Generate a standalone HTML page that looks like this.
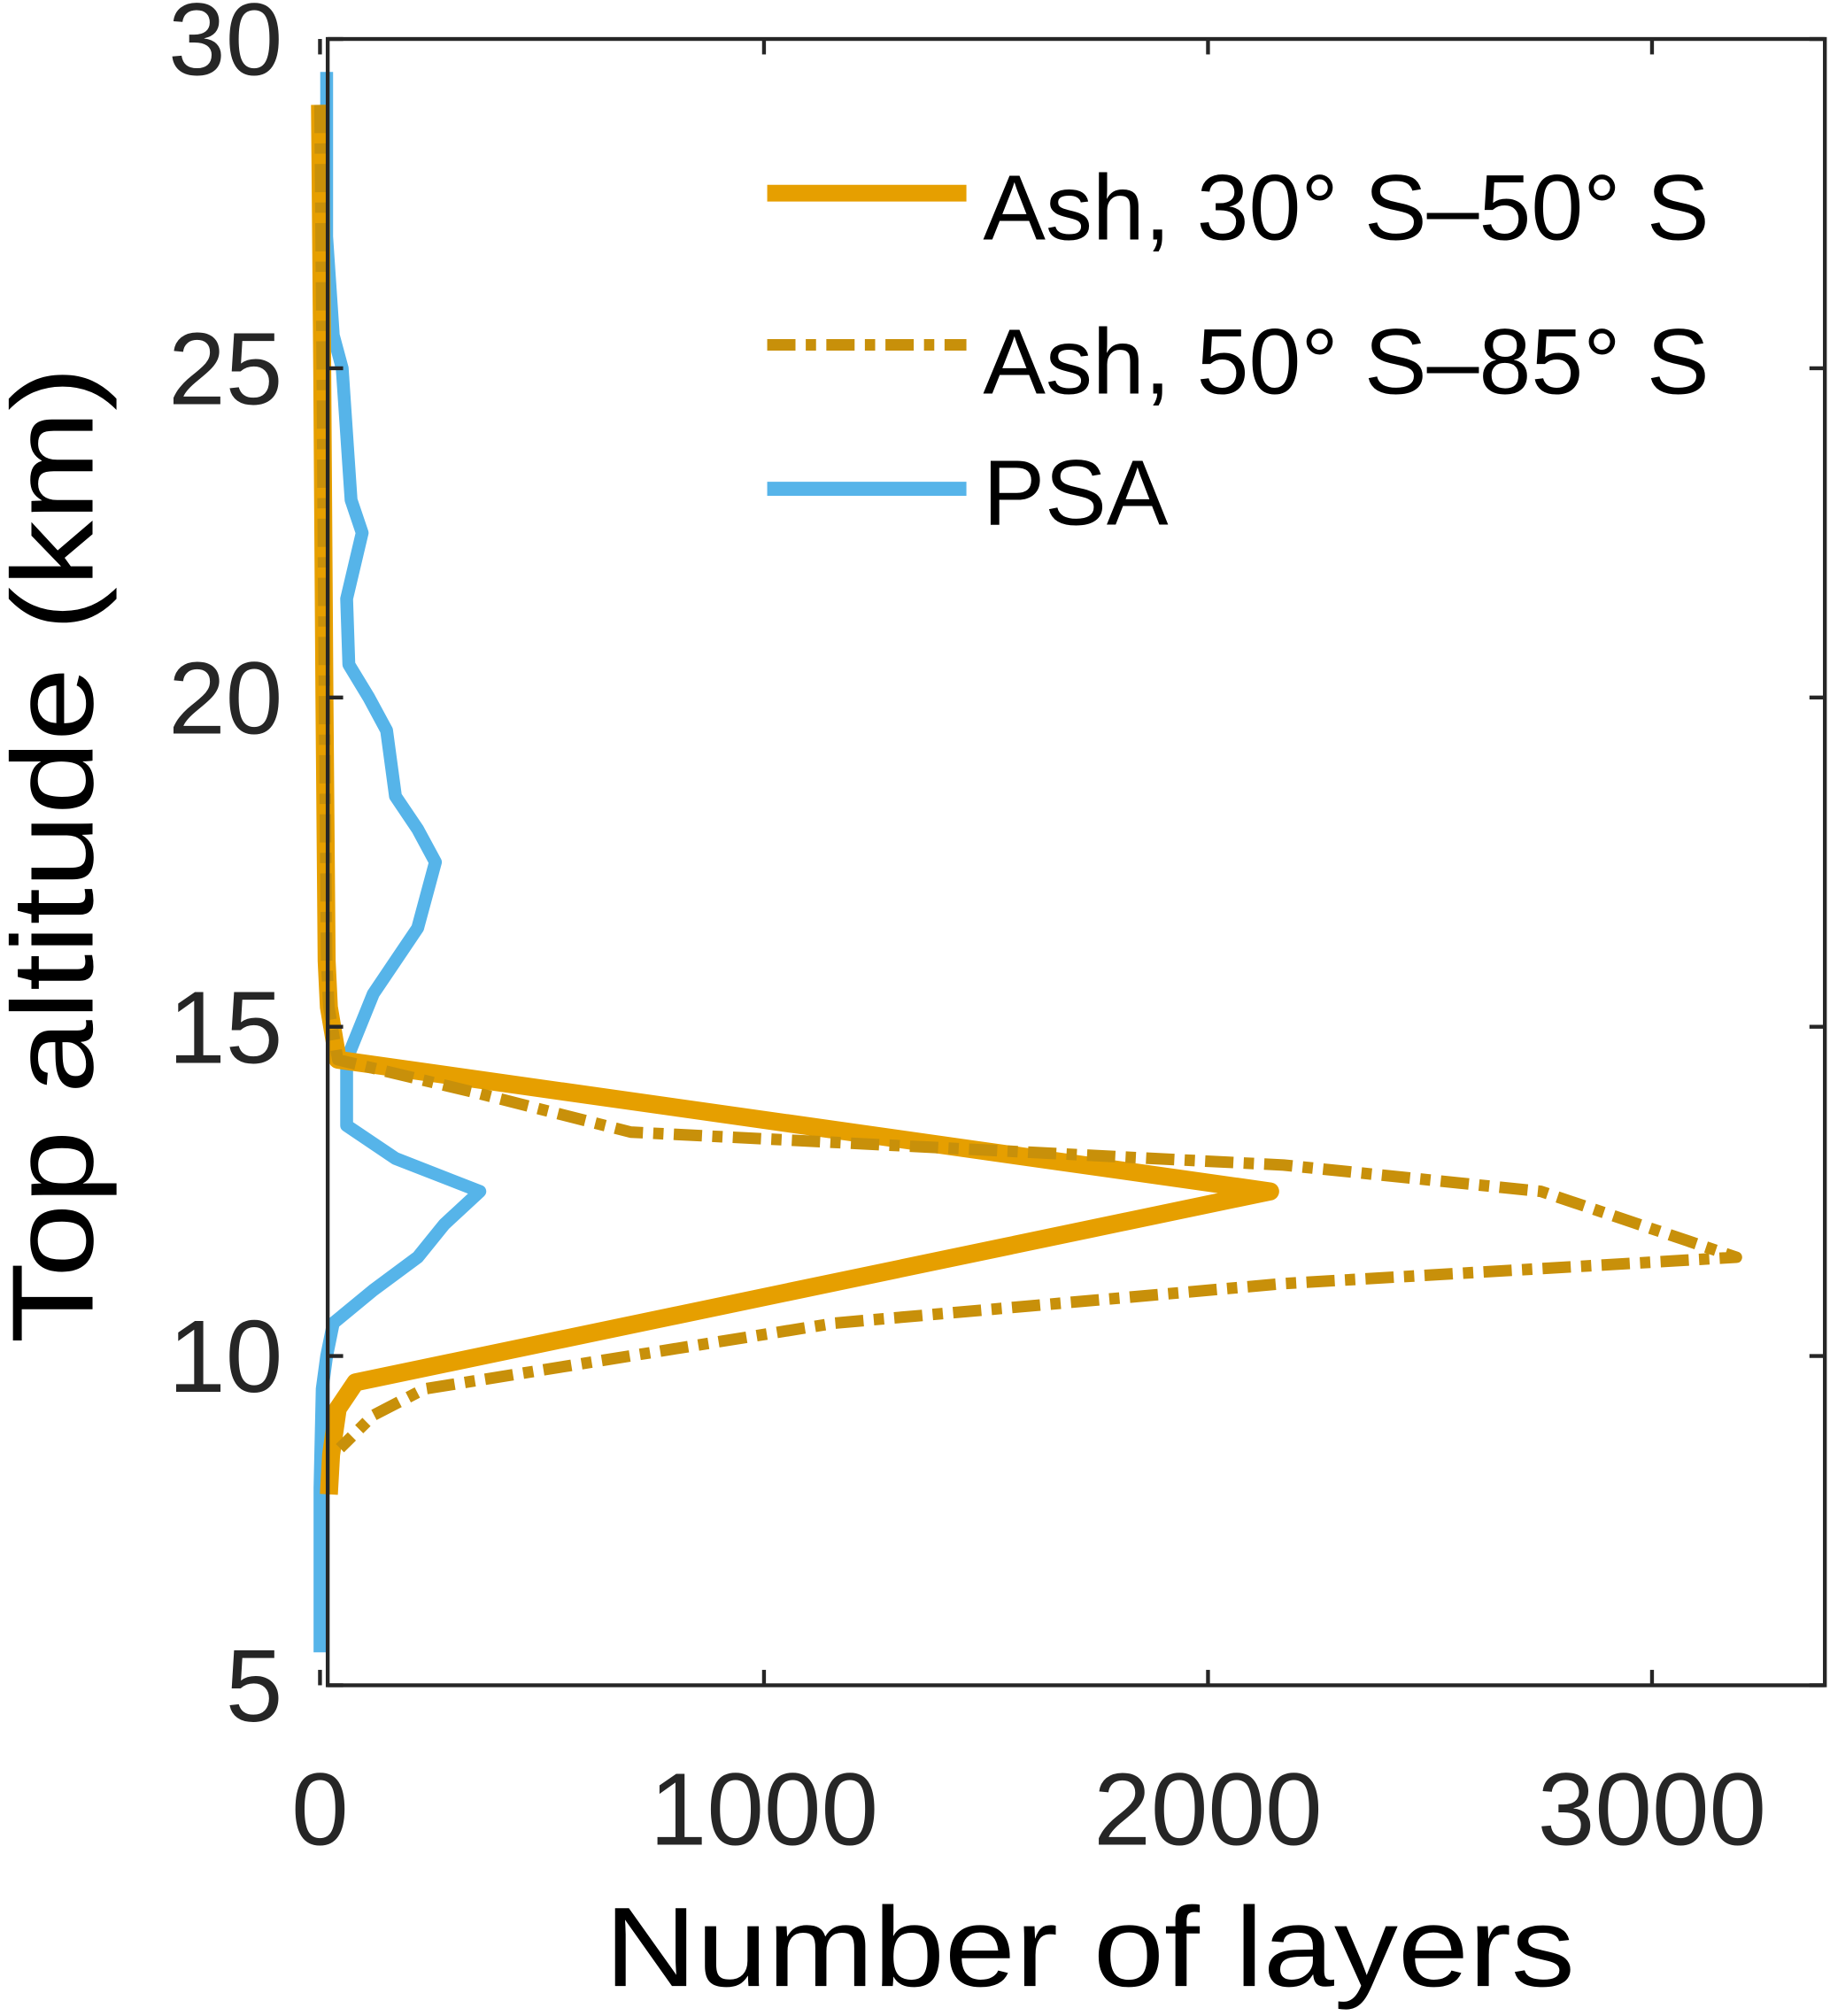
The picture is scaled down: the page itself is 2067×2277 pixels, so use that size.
<!DOCTYPE html>
<html><head><meta charset="utf-8"><style>html,body{margin:0;padding:0;background:#fff}svg{display:block}text{font-family:"Liberation Sans",Arial,sans-serif;fill:#262626}</style></head>
<body>
<svg id="chart" width="2067" height="2277" viewBox="0 0 1424 1568" xmlns="http://www.w3.org/2000/svg">
<g id="plot"></g>
</svg>
<script>
const xTicks=[0,1000,2000,3000];
const yTicks=[5,10,15,20,25,30];
const ashNAlt=[29,25,20,16,15.3,14.5,12.5,9.6,9.2,8.5,7.9];
const ashNVal=[0,5,10,15,20,40,2140,80,40,25,20];
const ashSAlt=[29,25,20,16,15.3,14.5,14.0,13.4,12.9,12.5,11.5,11.1,10.5,9.5,9.1,8.6];
const ashSVal=[0,5,10,15,20,40,350,700,2170,2750,3190,2170,1160,235,120,45];
const psaAlt=[29.5,27,25.5,25,23,22.5,21.5,20.5,20,19.5,19,18.5,18,17.5,17,16.5,16,15.5,15,14.5,13.5,13,12.5,12,11.5,11,10.5,10,9.5,8,5.5];
const psaVal=[15,15,30,50,70,95,60,65,110,150,160,170,220,260,240,220,170,120,90,60,60,170,360,280,220,120,30,15,5,0,0];
const NS="http://www.w3.org/2000/svg";
const X0=249,XS=0.3455,L=255,R=1420,T=30,B=1311;
const xs=v=>X0+v*XS, ys=a=>T+(30-a)*(B-T)/25;
const g=document.getElementById('plot');
function mk(t,at){const e=document.createElementNS(NS,t);for(const k in at)e.setAttribute(k,at[k]);g.appendChild(e);return e;}
function line(alt,val,color,w,dash,name){
  const e=mk('polyline',{points:alt.map((a,i)=>xs(val[i])+','+ys(a)).join(' '),fill:'none',stroke:color,'stroke-width':w,'stroke-linejoin':'round'});
  if(dash)e.setAttribute('stroke-dasharray',dash);
  
  
}
line(psaAlt,psaVal,'#56B4E9',10,null,'psa-line');
line(ashNAlt,ashNVal,'#E69F00',14,null,'ash-30-50-line');
line(ashSAlt,ashSVal,'#C8900A',9,'22 8 8 8','ash-50-85-line');
const box=mk('rect',{x:L,y:T,width:R-L,height:B-T,fill:'none',stroke:'#262626','stroke-width':3});


xTicks.forEach(v=>{
  mk('line',{x1:xs(v),x2:xs(v),y1:B,y2:B-12,stroke:'#262626','stroke-width':3});
  mk('line',{x1:xs(v),x2:xs(v),y1:T,y2:T+12,stroke:'#262626','stroke-width':3});
  const t=mk('text',{x:xs(v),y:B+124,'font-size':80,'text-anchor':'middle'});t.textContent=v;
  
  
});
yTicks.forEach(v=>{
  mk('line',{x1:L,x2:L+12,y1:ys(v),y2:ys(v),stroke:'#262626','stroke-width':3});
  mk('line',{x1:R,x2:R-12,y1:ys(v),y2:ys(v),stroke:'#262626','stroke-width':3});
  const t=mk('text',{x:220,y:ys(v)+28,'font-size':80,'text-anchor':'end'});t.textContent=v;
  
  
});
const xl=mk('text',{x:848,y:1545,'font-size':88,'text-anchor':'middle',textLength:755,lengthAdjust:'spacingAndGlyphs',style:'fill:#000'});xl.textContent='Number of layers';


const yl=mk('text',{x:0,y:0,'font-size':90,'text-anchor':'middle',textLength:760,lengthAdjust:'spacingAndGlyphs',transform:'translate(72,665) rotate(-90)',style:'fill:#000'});yl.textContent='Top altitude (km)';


const leg=[['Ash, 30° S–50° S','#E69F00',13,null,150,186],['Ash, 50° S–85° S','#C8900A',9,'22 8 8 8',268,306],['PSA','#56B4E9',11,null,380,408]];
leg.forEach(l=>{
  const ln=mk('line',{x1:597,x2:752,y1:l[4],y2:l[4],stroke:l[1],'stroke-width':l[2]});
  if(l[3])ln.setAttribute('stroke-dasharray',l[3]);
  
  
  const t=mk('text',{x:765,y:l[5],'font-size':72,style:'fill:#000'});t.textContent=l[0];
  if(l[0]!=='PSA'){t.setAttribute('textLength',565);t.setAttribute('lengthAdjust','spacingAndGlyphs');}
  
  
});
</script>
</body></html>
